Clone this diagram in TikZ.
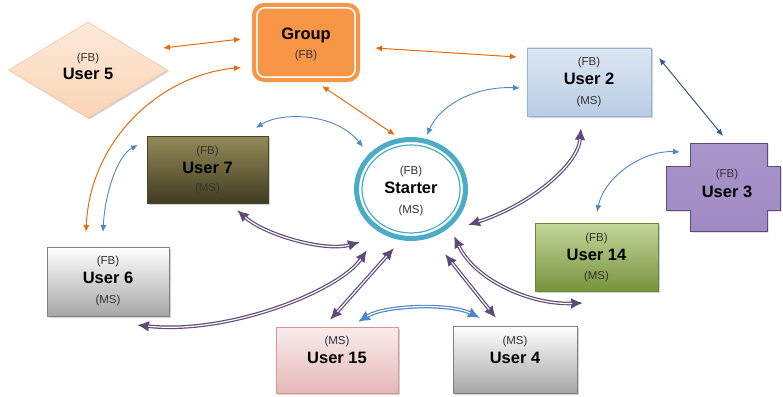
\documentclass[tikz,border=0pt]{standalone}
\usepackage{fontspec}
\setmainfont{Liberation Sans}
\usetikzlibrary{arrows.meta,calc,shapes.geometric,shadows}
\definecolor{orangeA}{HTML}{E46C0A}
\definecolor{blueA}{HTML}{4F86C6}
\definecolor{navyA}{HTML}{2F5A8A}
\definecolor{purpA}{HTML}{5F497A}
\definecolor{tealA}{HTML}{4BACC6}
\definecolor{groupfill}{HTML}{F79646}
\definecolor{txtgray}{HTML}{333333}
\definecolor{peachT}{HTML}{FDEADA}
\definecolor{peachB}{HTML}{FBD4B4}
\definecolor{peachD}{HTML}{F4C7A0}
\definecolor{u2T}{HTML}{DCE6F2}
\definecolor{u2B}{HTML}{B9CDE5}
\definecolor{u2D}{HTML}{95B3D7}
\definecolor{u7T}{HTML}{958B58}
\definecolor{u7B}{HTML}{403C22}
\definecolor{u7D}{HTML}{4A4528}
\definecolor{u14T}{HTML}{C4D79B}
\definecolor{u14B}{HTML}{77933C}
\definecolor{u14D}{HTML}{6A8535}
\definecolor{grayB}{HTML}{A6A6A6}
\definecolor{grayD}{HTML}{808080}
\definecolor{u15T}{HTML}{F9ECEC}
\definecolor{u15B}{HTML}{E5B8B7}
\definecolor{u15D}{HTML}{D99694}
\definecolor{u3T}{HTML}{A896CA}
\definecolor{u3M}{HTML}{7F62A8}
\definecolor{u3B}{HTML}{A08AC4}
\definecolor{u3D}{HTML}{5F497A}
\begin{document}
\begin{tikzpicture}[x=1pt,y=-1pt,
  shad/.style={drop shadow={shadow xshift=1.5pt,shadow yshift=-1.5pt,opacity=0.35}},
  box/.style={rectangle, inner sep=0pt, line width=0.6pt, shad},
  small/.style={anchor=base, inner sep=0pt, font=\fontsize{11.5}{13}\selectfont, text=txtgray},
  big/.style={anchor=base, inner sep=0pt, font=\fontsize{16.5}{19}\selectfont\bfseries, text=black},
  thintips/.style={{Latex[length=7pt,width=6pt]}-{Latex[length=7pt,width=6pt]}},
  fattips/.style={{Latex[length=12pt,width=11pt]}-{Latex[length=12pt,width=11pt]}},
  orangearr/.style={draw=orangeA, line width=1pt, thintips},
  bluearr/.style={draw=blueA, line width=0.9pt, thintips},
  navyarr/.style={draw=navyA, line width=1pt, thintips},
  purparr/.style={draw=purpA, line width=3.6pt, fattips,
    postaction={draw=white, line width=1.2pt, -, shorten <=11pt, shorten >=11pt}},
  bluedbl/.style={draw=blueA, line width=3.6pt, fattips,
    postaction={draw=white, line width=1.2pt, -, shorten <=11pt, shorten >=11pt}}
]
\useasboundingbox (0,0) rectangle (783,396);

% Group
\node[rectangle, inner sep=0pt, minimum width=108pt, minimum height=79pt, rounded corners=12pt, fill=groupfill] (group) at (306,42.5) {};
\draw[white, line width=1.5pt, rounded corners=8pt] ($(group.north west)+(5,5)$) rectangle ($(group.south east)+(-5,-5)$);
\node[big] (g-name) at (306,40) {Group};
\node[small] (g-fb) at (306,58) {(FB)};

% User 5
\node[diamond, minimum width=159pt, minimum height=96pt, inner sep=0pt, top color=peachT, bottom color=peachB, draw=peachD, line width=0.6pt, shad] (user5) at (88,70) {};
\node[small] (u5-fb) at (88,61) {(FB)};
\node[big] (u5-name) at (88,79) {User 5};

% User 2
\node[box, minimum width=124pt, minimum height=68pt, top color=u2T, bottom color=u2B, draw=u2D] (user2) at (589,82) {};
\node[small] (u2-fb) at (589,65) {(FB)};
\node[big] (u2-name) at (589,84) {User 2};
\node[small] (u2-ms) at (589,104) {(MS)};

% User 7
\node[box, minimum width=121pt, minimum height=67pt, top color=u7T, bottom color=u7B, draw=u7D] (user7) at (207.5,169.5) {};
\node[small] (u7-fb) at (207.5,154) {(FB)};
\node[big] (u7-name) at (207.5,173) {User 7};
\node[small] (u7-ms) at (207.5,191) {(MS)};

% Starter
\node[ellipse, minimum width=109pt, minimum height=99pt, draw=tealA, line width=5pt, inner sep=0pt] (starter) at (411,189) {};
\draw[tealA, line width=1.2pt] (starter.center) ellipse [x radius=49pt, y radius=44pt];
\node[small] (s-fb) at (411,174) {(FB)};
\node[big] (s-name) at (411,193) {Starter};
\node[small] (s-ms) at (411,213) {(MS)};

% User 3
\path[top color=u3T, middle color=u3M, bottom color=u3B, draw=u3D, line width=0.6pt, shad]
  (690,143) -- (767,143) -- (767,166) -- (780,166) -- (780,210) -- (767,210) -- (767,231)
  -- (690,231) -- (690,210) -- (666,210) -- (666,166) -- (690,166) -- cycle;
\node[inner sep=0pt, minimum width=114pt, minimum height=44pt] (u3) at (723,188) {};
\node[small] (u3-fb) at (727,177.5) {(FB)};
\node[big] (u3-name) at (727,197) {User 3};

% User 14
\node[box, minimum width=123pt, minimum height=68pt, top color=u14T, bottom color=u14B, draw=u14D] (user14) at (596.5,257) {};
\node[small] (u14-fb) at (596.5,241) {(FB)};
\node[big] (u14-name) at (596.5,260) {User 14};
\node[small] (u14-ms) at (596.5,279) {(MS)};

% User 6
\node[box, minimum width=122pt, minimum height=69pt, top color=white, bottom color=grayB, draw=grayD] (user6) at (108,281.5) {};
\node[small] (u6-fb) at (108,264) {(FB)};
\node[big] (u6-name) at (108,283) {User 6};
\node[small] (u6-ms) at (108,303) {(MS)};

% User 15
\node[box, minimum width=122pt, minimum height=66pt, top color=u15T, bottom color=u15B, draw=u15D] (user15) at (337,360) {};
\node[small] (u15-ms) at (337,344) {(MS)};
\node[big] (u15-name) at (337,363) {User 15};

% User 4
\node[box, minimum width=124pt, minimum height=67pt, top color=white, bottom color=grayB, draw=grayD] (user4) at (515,359.5) {};
\node[small] (u4-ms) at (515,344) {(MS)};
\node[big] (u4-name) at (515,363) {User 4};

% connectors
\draw[orangearr] ($(user5)+(75,-22)$) -- ($(group)+(-65,-3.5)$);
\draw[orangearr] ($(group)+(-65,25)$) .. controls +(-81,7.5) and +(4,-92) .. ($(user6)+(-22,-49.5)$);
\draw[orangearr] ($(group)+(69,5.5)$) -- ($(user2)+(-72,-25)$);
\draw[orangearr] ($(group)+(16,43.5)$) -- ($(starter)+(-16,-54)$);
\draw[bluearr] ($(user7)+(48.5,-41.5)$) .. controls +(24,-16) and +(-28,-35) .. ($(starter)+(-48,-42)$);
\draw[bluearr] ($(user6)+(-5,-49.5)$) .. controls +(2,-40) and +(-20,10) .. ($(user7)+(-69.5,-24.5)$);
\draw[bluearr] ($(starter)+(16,-54)$) .. controls +(13,-30) and +(-45,-2) .. ($(user2)+(-69,6)$);
\draw[bluearr] ($(user14)+(0.5,-45)$) .. controls +(8,-37) and +(-35,-2) .. ($(u3)+(-43,-36)$);
\draw[bluedbl] ($(user15)+(21,-38)$) .. controls +(27,-17) and +(-30,-15) .. ($(user4)+(-35,-41.5)$);
\draw[navyarr] ($(user2)+(70,-24)$) -- ($(u3)+(0,-52)$);
\draw[purparr] ($(user7)+(29.5,40.5)$) .. controls +(28,25) and +(-35,10) .. ($(starter)+(-51,53)$);
\draw[purparr] ($(user6)+(29,43.5)$) .. controls +(93,10) and +(-27,40) .. ($(starter)+(-44,61)$);
\draw[purparr] ($(user15)+(-7,-40)$) -- ($(starter)+(-17,59)$);
\draw[purparr] ($(starter)+(57,36)$) .. controls +(62,-20) and +(-3,37) .. ($(user2)+(-8,46)$);
\draw[purparr] ($(starter)+(34,65)$) -- ($(user4)+(-19,-41.5)$);
\draw[purparr] ($(starter)+(43,47)$) .. controls +(21,44) and +(-53,2) .. ($(user14)+(-13.5,46)$);
\end{tikzpicture}
\end{document}
